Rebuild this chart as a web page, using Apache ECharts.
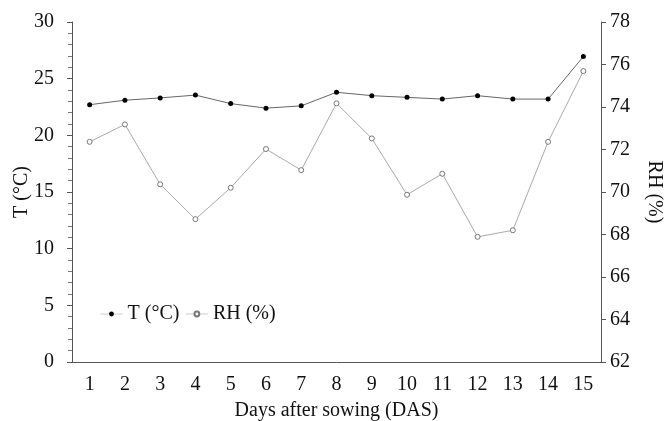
<!DOCTYPE html>
<html>
<head>
<meta charset="utf-8">
<script src="https://cdn.jsdelivr.net/npm/echarts@6/dist/echarts.min.js"></script>
<style>
html, body { margin: 0; padding: 0; background: #fff; }
#chart { width: 665px; height: 421px; }
</style>
</head>
<body>
<div id="chart"></div>
<script>
// 数据
var days = ['1', '2', '3', '4', '5', '6', '7', '8', '9', '10', '11', '12', '13', '14', '15'];
var tempData = [22.7, 23.1, 23.3, 23.55, 22.8, 22.4, 22.6, 23.8, 23.5, 23.35, 23.2, 23.5, 23.2, 23.2, 26.95];
var rhData = [72.36, 73.18, 70.36, 68.72, 70.2, 72.02, 71.03, 74.17, 72.52, 69.87, 70.86, 67.89, 68.2, 72.36, 75.69];

var serifFont = '"Liberation Serif", "DejaVu Serif", serif';
var labelStyle = {
	fontFamily: serifFont,
	fontSize: 20,
	color: '#111'
};

var chart = echarts.init(document.getElementById('chart'));
var option = {
	animation: false,
	backgroundColor: '#fff',
	legend: {
		left: 95,
		top: 299,
		itemWidth: 22,
		itemHeight: 6,
		itemGap: 6,
		textStyle: labelStyle,
		lineStyle: {
			color: '#ccc',
			width: 1
		},
		data: ['T (°C)', 'RH (%)']
	},
	//网格
	grid: {
		left: 72,
		right: 64,
		top: 22,
		bottom: 59,
		outerBoundsMode: 'none'
	},
	xAxis: {
		type: 'category',
		data: days,
		boundaryGap: true,
		name: 'Days after sowing (DAS)',
		nameLocation: 'middle',
		nameGap: 39,
		nameTextStyle: labelStyle,
		axisLine: {
			lineStyle: { color: '#555', width: 1 }
		},
		axisTick: {
			alignWithLabel: true,
			length: 4,
			lineStyle: { color: '#555' }
		},
		axisLabel: {
			margin: 13,
			fontFamily: serifFont,
			fontSize: 20,
			color: '#111'
		},
		splitLine: { show: false }
	},
	yAxis: [{
		type: 'value',
		min: 0,
		max: 30,
		interval: 5,
		name: 'T (°C)',
		nameLocation: 'middle',
		nameGap: 40,
		nameRotate: 90,
		nameMoveOverlap: false,
		nameTextStyle: labelStyle,
		axisLine: {
			show: true,
			lineStyle: { color: '#555', width: 1 }
		},
		axisTick: {
			show: true,
			length: 5,
			lineStyle: { color: '#555' }
		},
		//次刻度
		minorTick: {
			show: true,
			splitNumber: 5,
			length: 4,
			lineStyle: { color: '#777' }
		},
		axisLabel: {
			margin: 18,
			fontFamily: serifFont,
			fontSize: 20,
			color: '#111'
		},
		splitLine: { show: false }
	}, {
		type: 'value',
		min: 62,
		max: 78,
		interval: 2,
		name: 'RH (%)',
		nameLocation: 'middle',
		nameGap: 43,
		nameRotate: -90,
		nameTextStyle: labelStyle,
		axisLine: {
			show: true,
			lineStyle: { color: '#555', width: 1 }
		},
		axisTick: {
			show: true,
			length: 5,
			lineStyle: { color: '#555' }
		},
		axisLabel: {
			margin: 9,
			fontFamily: serifFont,
			fontSize: 20,
			color: '#111'
		},
		splitLine: { show: false }
	}],
	series: [{
		name: 'T (°C)',
		type: 'line',
		yAxisIndex: 0,
		symbol: 'circle',
		symbolSize: 5,
		itemStyle: {
			color: '#000',
			borderColor: '#000',
			borderWidth: 0
		},
		lineStyle: {
			color: '#666',
			width: 1
		},
		data: tempData
	}, {
		name: 'RH (%)',
		type: 'line',
		yAxisIndex: 1,
		symbol: 'circle',
		symbolSize: 5,
		itemStyle: {
			color: '#fff',
			borderColor: '#777',
			borderWidth: 1
		},
		lineStyle: {
			color: '#aaa',
			width: 1
		},
		data: rhData
	}]
};
chart.setOption(option);
</script>
</body>
</html>
